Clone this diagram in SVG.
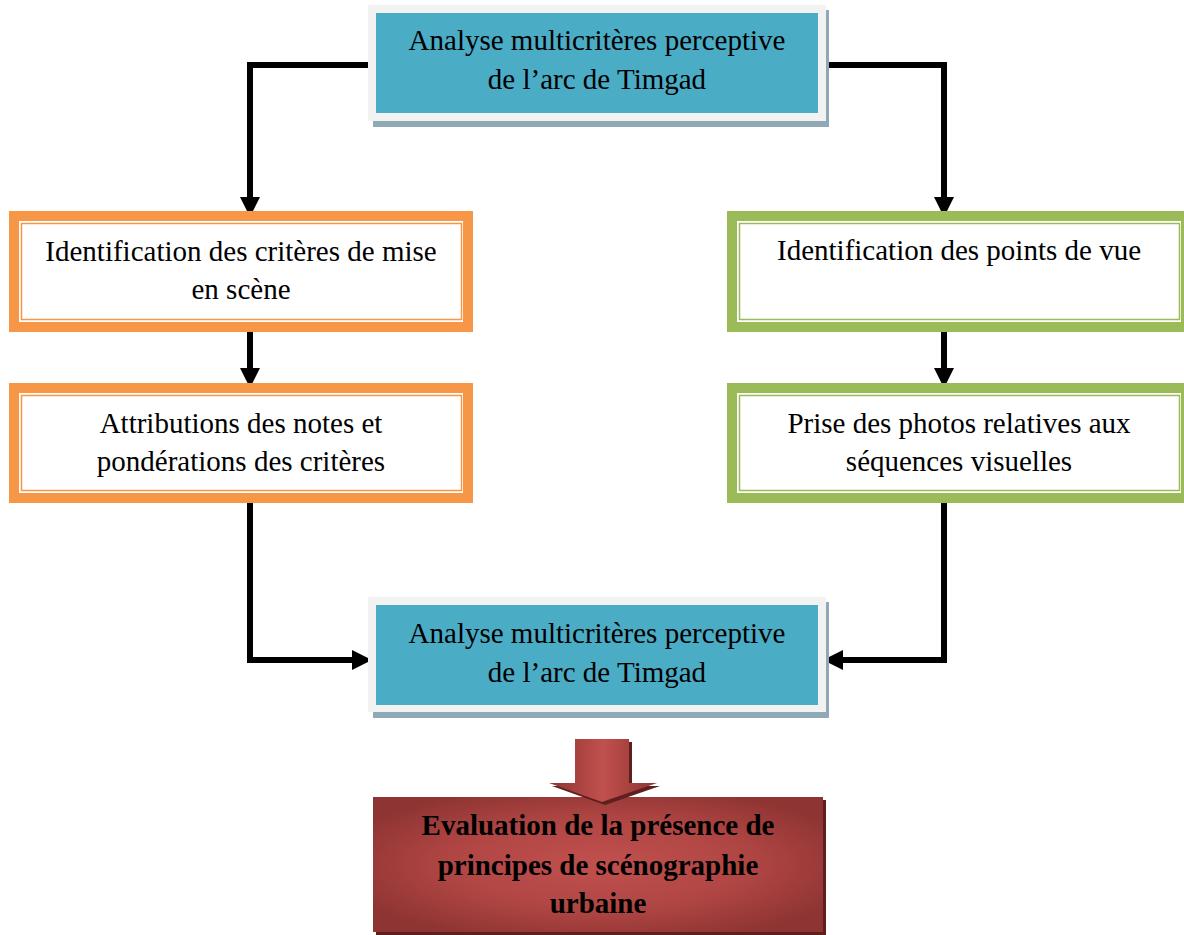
<svg xmlns="http://www.w3.org/2000/svg" width="1184" height="935" viewBox="0 0 1184 935">
<style>
  .t { font-family: "Liberation Serif", "Times New Roman", serif; font-size: 29px; fill: #000; text-anchor: middle; }
  .b { font-weight: bold; }
  .frame { fill: #F2F2F2; }
  .teal { fill: #4BACC6; }
  .shadow { fill: #8FA9B6; }
  .orange { fill: #F79646; }
  .green { fill: #9BBB59; }
  .inner { fill: #FFFFFF; }
  .thinO { fill: none; stroke: #F79646; stroke-width: 1.5; }
  .thinG { fill: none; stroke: #9BBB59; stroke-width: 1.5; }
  .conn { fill: none; stroke: #000; stroke-width: 6; stroke-linejoin: miter; }
</style>
<defs>
  <marker id="ah" markerUnits="userSpaceOnUse" markerWidth="20" markerHeight="20" refX="0" refY="10" orient="auto" overflow="visible">
    <path d="M0,0 L20,10 L0,20 Z" fill="#000"/>
  </marker>
  <radialGradient id="redG" cx="50%" cy="50%" r="60%">
    <stop offset="0" stop-color="#C0504D"/>
    <stop offset="0.55" stop-color="#B04644"/>
    <stop offset="1" stop-color="#8E3432"/>
  </radialGradient>
  <linearGradient id="redA" x1="0" y1="0" x2="1" y2="0">
    <stop offset="0" stop-color="#8E3432"/>
    <stop offset="0.5" stop-color="#C0504D"/>
    <stop offset="1" stop-color="#8E3432"/>
  </linearGradient>
</defs>
<rect width="1184" height="935" fill="#FFFFFF"/>

<g id="connectors">
  <path class="conn" d="M372 65 H250 V197" marker-end="url(#ah)"/>
  <path class="conn" d="M822 65 H944 V197" marker-end="url(#ah)"/>
  <path class="conn" d="M250 330 V368" marker-end="url(#ah)"/>
  <path class="conn" d="M944 330 V368" marker-end="url(#ah)"/>
  <path class="conn" d="M250 501 V660 H352" marker-end="url(#ah)"/>
  <path class="conn" d="M944 501 V660 H843" marker-end="url(#ah)"/>
</g>

<g id="top-analyse">
  <rect class="shadow" x="373" y="10" width="456" height="117"/>
  <rect class="frame" x="368" y="5" width="458" height="116"/>
  <rect class="teal" x="376" y="13" width="442" height="100"/>
  <text class="t" x="597" y="50">Analyse multicritères perceptive</text>
  <text class="t" x="597" y="89">de l’arc de Timgad</text>
</g>

<g id="criteres">
  <rect class="orange" x="9" y="211" width="464" height="121"/>
  <rect class="inner" x="19" y="221" width="444" height="101"/>
  <rect class="thinO" x="21.5" y="223.5" width="440" height="96"/>
  <text class="t" x="241" y="261">Identification des critères de mise</text>
  <text class="t" x="241" y="299">en scène</text>
</g>

<g id="notes">
  <rect class="orange" x="9" y="383" width="464" height="120"/>
  <rect class="inner" x="19" y="393" width="444" height="100"/>
  <rect class="thinO" x="21.5" y="395.5" width="440" height="95"/>
  <text class="t" x="241" y="433">Attributions des notes et</text>
  <text class="t" x="241" y="471">pondérations des critères</text>
</g>

<g id="points-de-vue">
  <rect class="green" x="727" y="211" width="464" height="121"/>
  <rect class="inner" x="737" y="221" width="444" height="101"/>
  <rect class="thinG" x="739.5" y="223.5" width="440" height="96"/>
  <text class="t" x="959" y="260">Identification des points de vue</text>
</g>

<g id="photos">
  <rect class="green" x="727" y="383" width="464" height="120"/>
  <rect class="inner" x="737" y="393" width="444" height="100"/>
  <rect class="thinG" x="739.5" y="395.5" width="440" height="95"/>
  <text class="t" x="959" y="433">Prise des photos relatives aux</text>
  <text class="t" x="959" y="471">séquences visuelles</text>
</g>

<g id="bottom-analyse">
  <rect class="shadow" x="373" y="602" width="456" height="116"/>
  <rect class="frame" x="368" y="597" width="458" height="115"/>
  <rect class="teal" x="376" y="605" width="442" height="100"/>
  <text class="t" x="597" y="643">Analyse multicritères perceptive</text>
  <text class="t" x="597" y="682">de l’arc de Timgad</text>
</g>

<g id="evaluation">
  <rect x="376" y="800" width="450" height="135" fill="#5E1F1E"/>
  <rect x="373" y="797" width="450" height="135" fill="url(#redG)"/>
  <text class="t b" x="598" y="835">Evaluation de la présence de</text>
  <text class="t b" x="598" y="875">principes de scénographie</text>
  <text class="t b" x="598" y="913">urbaine</text>
</g>

<g id="big-arrow">
  <polygon points="578,742 632,742 632,786 660,786 605,805 552,786 578,786" fill="#5E1F1E"/>
  <polygon points="575,739 629,739 629,783 657,783 602,802 549,783 575,783" fill="url(#redA)"/>
</g>
</svg>
